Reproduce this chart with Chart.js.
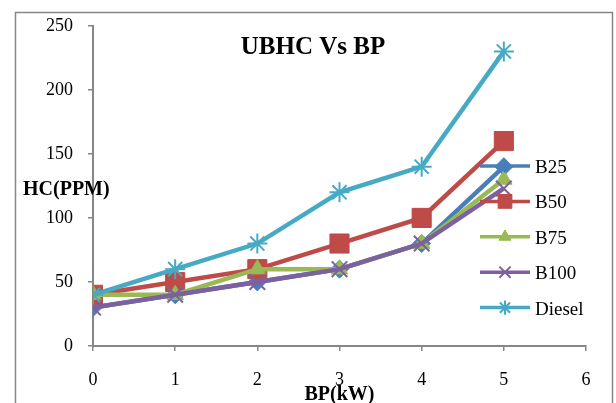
<!DOCTYPE html>
<html>
<head>
<meta charset="utf-8">
<script src="https://cdn.jsdelivr.net/npm/chart.js@4/dist/chart.umd.min.js"></script>
<style>
  html, body { margin: 0; padding: 0; background: #fff; }
  #wrap { width: 616px; height: 403px; position: relative; }
</style>
</head>
<body>
<div id="wrap"><canvas id="hcChart" width="616" height="403"></canvas></div>
<script>
const bpValues = [0, 1, 2, 3, 4, 5];
const xTicks = [0, 1, 2, 3, 4, 5, 6];
const yTicks = [0, 50, 100, 150, 200, 250];

const b25 = [30, 40, 50, 60, 80, 140];
const b50 = [40, 50, 60, 80, 100, 160];
const b75 = [40, 40, 60, 60, 80, 130];
const b100 = [30, 40, 50, 60, 80, 123];
const diesel = [40, 60, 80, 120, 140, 230];

const seriesNames = ["B25", "B50", "B75", "B100", "Diesel"];
const seriesValues = [b25, b50, b75, b100, diesel];
const seriesColors = ["#4a7ebb", "#be4b48", "#98b954", "#7d60a0", "#46aac5"];
const markerStyles = ["rectRot", "rect", "triangle", "crossRot", "star"];
const markerSizes = [9, 13.5, 9.5, 11, 10];

const serif = "'Liberation Serif', 'Times New Roman', serif";
const axisGrey = "#868686";

function toPoints(values) {
  return values.map((v, i) => ({ x: bpValues[i], y: v }));
}

function isStroked(style) {
  return style === "crossRot" || style === "star";
}

const datasets = seriesNames.map((name, i) => ({
  label: name,
  data: toPoints(seriesValues[i]),
  borderColor: seriesColors[i],
  backgroundColor: seriesColors[i],
  borderWidth: 4.5,
  tension: 0,
  pointStyle: markerStyles[i],
  pointRadius: markerSizes[i],
  pointBorderWidth: isStroked(markerStyles[i]) ? 2 : 1,
  pointBackgroundColor: seriesColors[i],
  pointBorderColor: seriesColors[i],
  // later series sit on top
  order: seriesNames.length - i
}));

// frame, title, axis titles and the line+marker legend
const decorations = {
  id: "decorations",
  beforeDraw(chart) {
    const ctx = chart.ctx;
    ctx.save();
    ctx.strokeStyle = axisGrey;
    ctx.lineWidth = 1.5;
    ctx.strokeRect(15.5, 12.5, 597, 400);
    ctx.restore();
  },
  afterDraw(chart) {
    const ctx = chart.ctx;
    const area = chart.chartArea;
    ctx.save();
    ctx.fillStyle = "#000";
    ctx.textBaseline = "alphabetic";

    ctx.font = "bold 25px " + serif;
    ctx.textAlign = "center";
    ctx.fillText("UBHC Vs BP", 313, 54);

    ctx.font = "bold 20px " + serif;
    ctx.textAlign = "left";
    ctx.fillText("HC(PPM)", 23, 195);

    ctx.textAlign = "center";
    ctx.fillText("BP(kW)", (area.left + area.right) / 2, 400);

    // legend
    const lx0 = 480, lx1 = 530, rowTop = 166, rowGap = 35.4;
    ctx.font = "19px " + serif;
    ctx.textAlign = "left";
    seriesNames.forEach((name, i) => {
      const y = rowTop + i * rowGap;
      ctx.strokeStyle = seriesColors[i];
      ctx.fillStyle = seriesColors[i];
      ctx.lineWidth = 3.5;
      ctx.beginPath();
      ctx.moveTo(lx0, y);
      ctx.lineTo(lx1, y);
      ctx.stroke();
      if (Chart.helpers && Chart.helpers.drawPoint) {
        ctx.lineWidth = isStroked(markerStyles[i]) ? 2 : 1;
        Chart.helpers.drawPoint(ctx, {
          pointStyle: markerStyles[i],
          radius: markerSizes[i] * 0.72,
          rotation: 0,
          borderWidth: ctx.lineWidth
        }, (lx0 + lx1) / 2, y);
      }
      ctx.fillStyle = "#000";
      ctx.fillText(name, 535, y + 7);
    });
    ctx.restore();
  }
};

new Chart(document.getElementById("hcChart"), {
  type: "line",
  data: { datasets: datasets },
  options: {
    responsive: false,
    animation: false,
    layout: { padding: { left: 0, right: 30, top: 25, bottom: 0 } },
    plugins: {
      legend: { display: false },
      title: { display: false },
      tooltip: { enabled: false }
    },
    scales: {
      x: {
        type: "linear",
        min: 0,
        max: 6,
        afterFit(scale) { scale.height = 57; },
        afterBuildTicks(scale) { scale.ticks = xTicks.map(v => ({ value: v })); },
        grid: { drawOnChartArea: false, drawTicks: true, tickLength: 5, color: axisGrey, lineWidth: 1.5 },
        border: { color: axisGrey, width: 2 },
        ticks: { color: "#000", padding: 18, font: { family: serif, size: 18 } }
      },
      y: {
        min: 0,
        max: 250,
        afterFit(scale) { scale.width = 93; },
        afterBuildTicks(scale) { scale.ticks = yTicks.map(v => ({ value: v })); },
        grid: { drawOnChartArea: false, drawTicks: true, tickLength: 5, color: axisGrey, lineWidth: 1.5 },
        border: { color: axisGrey, width: 2 },
        ticks: { color: "#000", padding: 15, font: { family: serif, size: 18 } }
      }
    }
  },
  plugins: [decorations]
});
</script>
</body>
</html>
